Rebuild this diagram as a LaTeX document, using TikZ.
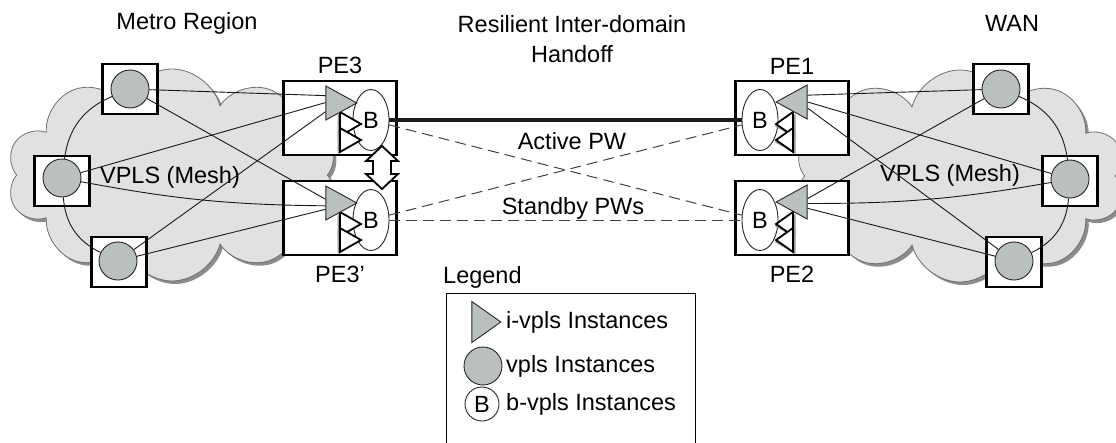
\documentclass[tikz,border=0pt]{standalone}
\usepackage{fontspec}
\setmainfont{Liberation Sans}
\usetikzlibrary{positioning,shapes.geometric,shapes.symbols}

\definecolor{cloudfill}{HTML}{E1E1E1}
\definecolor{cloudline}{HTML}{707070}
\definecolor{instgray}{HTML}{BABFBF}

\tikzset{
  region/.style={cloud, cloud puffs=10, aspect=1.55, draw=cloudline, fill=cloudfill,
    line width=0.8pt, minimum width=330pt, minimum height=212pt, inner sep=0pt},
  site/.style={draw, line width=2.4pt, fill=white, minimum width=55pt, minimum height=50pt, inner sep=0pt},
  vpls/.style={circle, draw=black!85, fill=instgray, line width=0.9pt, minimum size=38pt, inner sep=0pt},
  pebox/.style={draw, line width=2.8pt, fill=white, minimum width=113pt, minimum height=74pt, inner sep=0pt},
  ivpls/.style={isosceles triangle, isosceles triangle stretches, draw=black!85, fill=instgray,
    line width=0.9pt, minimum width=34pt, minimum height=31pt, inner sep=0pt, anchor=apex},
  bvpls/.style={ellipse, draw=black!85, fill=white, line width=0.9pt, minimum width=36pt, minimum height=61pt, inner sep=0pt},
  stack/.style={draw, fill=white, line width=1.8pt, line join=miter},
  mesh/.style={black!90, line width=0.9pt},
  active/.style={black!90, line width=4pt},
  standby/.style={black!75, line width=1pt, dash pattern=on 11pt off 6pt},
}

\begin{document}
\begin{tikzpicture}[x=1pt,y=-1pt,font=\fontsize{23.5}{30}\selectfont]
\useasboundingbox (0,0) rectangle (1116,442);

% clouds
\node[region, fill=black!45, draw=none] at (175,178) {};
\node[region] (metro) at (172,175) {};
\node[region, fill=black!45, draw=none] at (963,179) {};
\node[region] (wan) at (960,176) {};

% headings
\node (metrolbl) at (187,23) {Metro Region};
\node[align=center] (handofflbl) at (572,39) {Resilient Inter-domain\\Handoff};
\node (wanlbl) at (1012,23) {WAN};

% vpls sites
\node[site] (ls1) at (130,89) {};
\node[vpls] (lv1) at (ls1) {};
\node[site] (ls2) at (62,181) {};
\node[vpls] (lv2) at (62,178) {};
\node[site] (ls3) at (119,262) {};
\node[vpls] (lv3) at (118,261) {};
\node[site] (rs4) at (1001,89) {};
\node[vpls] (rv4) at (rs4) {};
\node[site] (rs5) at (1070,181) {};
\node[vpls] (rv5) at (1070,179) {};
\node[site] (rs6) at (1014,262) {};
\node[vpls] (rv6) at (1014,261) {};
\node (lmesh) at (170,177) {VPLS (Mesh)};
\node (rmesh) at (950,175) {VPLS (Mesh)};

% PE boxes
\node[pebox] (pe3) at (340,118) {};
\node[pebox] (pe3p) at (340,218) {};
\node[pebox] (pe1) at (792,118) {};
\node[pebox] (pe2) at (792,218) {};
\node[above=2pt of pe3] (pe3lbl) {PE3};
\node[below=6pt of pe3p] (pe3plbl) {PE3'};
\node[above=2pt of pe1] (pe1lbl) {PE1};
\node[below=6pt of pe2] (pe2lbl) {PE2};

% b-vpls and i-vpls
\node[bvpls] (b3) at (371,120) {B};
\node[bvpls] (b3p) at (371,220) {B};
\node[bvpls] (b1) at (760,120) {B};
\node[bvpls] (b2) at (760,220) {B};
\foreach \y in {120,220} {
  \foreach \d in {-8,8} {
    \fill[black!40] (337.5,\y+\d+2) -- (358.5,\y+\d+14) -- (337.5,\y+\d+26) -- cycle;
    \draw[stack] (340,\y+\d) -- (361,\y+\d+12) -- (340,\y+\d+24) -- cycle;
    \fill[black!40] (795.5,\y+\d+2) -- (774.5,\y+\d+14) -- (795.5,\y+\d+26) -- cycle;
    \draw[stack] (793,\y+\d) -- (776,\y+\d+12) -- (793,\y+\d+24) -- cycle;
  }
}
\node[ivpls] (t3) at (358,103) {};
\node[ivpls] (t3p) at (358,203) {};
\node[ivpls, shape border rotate=180] (t1) at (775,102) {};
\node[ivpls, shape border rotate=180] (t2) at (775,202) {};

% mesh
\draw[mesh] (lv1) to[bend right=30] (lv2);
\draw[mesh] (lv2) to[bend right=30] (lv3);
\draw[mesh] (lv1) -- (t3.145);
\draw[mesh] (lv1) -- (t3p.160);
\draw[mesh] (lv2) -- (t3.178);
\draw[mesh] (lv2) to[bend right=5] (t3p.195);
\draw[mesh] (lv3) -- (t3.220);
\draw[mesh] (lv3) -- (t3p.211);
\draw[mesh] (rv4) to[bend left=30] (rv5);
\draw[mesh] (rv5) to[bend left=30] (rv6);
\draw[mesh] (rv4) -- (t1.33);
\draw[mesh] (rv4) -- (t2.18);
\draw[mesh] (rv5) -- (t1.0);
\draw[mesh] (rv5) to[bend left=5] (t2.-8);
\draw[mesh] (rv6) -- (t1.-30);
\draw[mesh] (rv6) -- (t2.-31);

% pseudowires
\draw[active] (b3.east) -- (b1.west);
\draw[standby] (b3.-15) -- (b2.165);
\draw[standby] (b3p.15) -- (b1.195);
\draw[standby] (b3p.east) -- (b2.west);
\node (activelbl) at (572,141) {Active PW};
\node (standbylbl) at (573,208) {Standby PWs};

% redundancy between PE3 and PE3'
\draw[line width=1.8pt, fill=white, line join=miter]
  (382,146) -- (398,161) -- (391,161) -- (391,174) -- (398,174) -- (382,189)
  -- (366,174) -- (373,174) -- (373,161) -- (366,161) -- cycle;

% legend
\node[anchor=west, inner sep=0pt] (legendlbl) at (443,277) {Legend};
\node[draw, line width=0.9pt, anchor=north west, minimum width=249pt, minimum height=170pt] (legend) at (446,293) {};
\node[ivpls, minimum width=41pt, minimum height=29pt] (lgtri) at (502,322) {};
\node[vpls] (lgvpls) at (483,366) {};
\node[circle, draw=black!85, line width=0.9pt, minimum size=34pt, inner sep=0pt] (lgb) at (482,404) {B};
\node[anchor=west, inner sep=0pt] (lgtxt1) at (506,322) {i-vpls Instances};
\node[anchor=west, inner sep=0pt] (lgtxt2) at (506,366) {vpls Instances};
\node[anchor=west, inner sep=0pt] (lgtxt3) at (506,404) {b-vpls Instances};
\end{tikzpicture}
\end{document}
